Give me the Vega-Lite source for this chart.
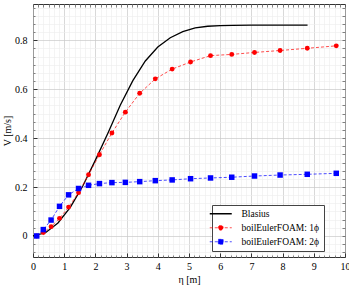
{
  "$schema": "https://vega.github.io/schema/vega-lite/v6.json",
  "width": 312,
  "height": 253,
  "autosize": {"type": "none"},
  "padding": {"left": 33, "top": 4, "right": 4, "bottom": 29},
  "config": {
    "font": "Liberation Serif",
    "view": {"stroke": "#333333", "strokeWidth": 1},
    "axis": {"domain": false, "labelColor": "#000000", "titleColor": "#000000", "tickColor": "#333333", "labelFontSize": 10, "titleFontSize": 10, "titleFontWeight": "normal"}
  },
  "datasets": {
    "pts": [
      {"series": "Blasius", "eta": 0, "v": 0},
      {"series": "Blasius", "eta": 0.4, "v": 0.013},
      {"series": "Blasius", "eta": 0.8, "v": 0.053},
      {"series": "Blasius", "eta": 1.2, "v": 0.118},
      {"series": "Blasius", "eta": 1.6, "v": 0.205},
      {"series": "Blasius", "eta": 2.0, "v": 0.31},
      {"series": "Blasius", "eta": 2.4, "v": 0.42},
      {"series": "Blasius", "eta": 2.8, "v": 0.535},
      {"series": "Blasius", "eta": 3.2, "v": 0.635},
      {"series": "Blasius", "eta": 3.6, "v": 0.715},
      {"series": "Blasius", "eta": 4.0, "v": 0.772},
      {"series": "Blasius", "eta": 4.4, "v": 0.81},
      {"series": "Blasius", "eta": 4.8, "v": 0.835},
      {"series": "Blasius", "eta": 5.2, "v": 0.85},
      {"series": "Blasius", "eta": 5.6, "v": 0.857},
      {"series": "Blasius", "eta": 6.0, "v": 0.86},
      {"series": "Blasius", "eta": 6.4, "v": 0.861},
      {"series": "Blasius", "eta": 7.0, "v": 0.862},
      {"series": "Blasius", "eta": 8.0, "v": 0.862},
      {"series": "Blasius", "eta": 8.8, "v": 0.862},
      {"series": "boilEulerFOAM: 1ϕ", "eta": 0.12, "v": 0.0},
      {"series": "boilEulerFOAM: 1ϕ", "eta": 0.33, "v": 0.014},
      {"series": "boilEulerFOAM: 1ϕ", "eta": 0.58, "v": 0.038},
      {"series": "boilEulerFOAM: 1ϕ", "eta": 0.85, "v": 0.072},
      {"series": "boilEulerFOAM: 1ϕ", "eta": 1.14, "v": 0.118},
      {"series": "boilEulerFOAM: 1ϕ", "eta": 1.46, "v": 0.177},
      {"series": "boilEulerFOAM: 1ϕ", "eta": 1.78, "v": 0.25},
      {"series": "boilEulerFOAM: 1ϕ", "eta": 2.13, "v": 0.332},
      {"series": "boilEulerFOAM: 1ϕ", "eta": 2.53, "v": 0.421},
      {"series": "boilEulerFOAM: 1ϕ", "eta": 2.96, "v": 0.506},
      {"series": "boilEulerFOAM: 1ϕ", "eta": 3.42, "v": 0.583},
      {"series": "boilEulerFOAM: 1ϕ", "eta": 3.92, "v": 0.642},
      {"series": "boilEulerFOAM: 1ϕ", "eta": 4.46, "v": 0.682},
      {"series": "boilEulerFOAM: 1ϕ", "eta": 5.05, "v": 0.711},
      {"series": "boilEulerFOAM: 1ϕ", "eta": 5.69, "v": 0.737},
      {"series": "boilEulerFOAM: 1ϕ", "eta": 6.37, "v": 0.742},
      {"series": "boilEulerFOAM: 1ϕ", "eta": 7.1, "v": 0.75},
      {"series": "boilEulerFOAM: 1ϕ", "eta": 7.92, "v": 0.758},
      {"series": "boilEulerFOAM: 1ϕ", "eta": 8.79, "v": 0.767},
      {"series": "boilEulerFOAM: 1ϕ", "eta": 9.72, "v": 0.777},
      {"series": "boilEulerFOAM: 2ϕ", "eta": 0.12, "v": 0.0},
      {"series": "boilEulerFOAM: 2ϕ", "eta": 0.33, "v": 0.026},
      {"series": "boilEulerFOAM: 2ϕ", "eta": 0.58, "v": 0.065},
      {"series": "boilEulerFOAM: 2ϕ", "eta": 0.85, "v": 0.121},
      {"series": "boilEulerFOAM: 2ϕ", "eta": 1.14, "v": 0.168},
      {"series": "boilEulerFOAM: 2ϕ", "eta": 1.46, "v": 0.194},
      {"series": "boilEulerFOAM: 2ϕ", "eta": 1.78, "v": 0.207},
      {"series": "boilEulerFOAM: 2ϕ", "eta": 2.13, "v": 0.214},
      {"series": "boilEulerFOAM: 2ϕ", "eta": 2.53, "v": 0.218},
      {"series": "boilEulerFOAM: 2ϕ", "eta": 2.96, "v": 0.219},
      {"series": "boilEulerFOAM: 2ϕ", "eta": 3.42, "v": 0.222},
      {"series": "boilEulerFOAM: 2ϕ", "eta": 3.92, "v": 0.226},
      {"series": "boilEulerFOAM: 2ϕ", "eta": 4.46, "v": 0.229},
      {"series": "boilEulerFOAM: 2ϕ", "eta": 5.05, "v": 0.234},
      {"series": "boilEulerFOAM: 2ϕ", "eta": 5.69, "v": 0.237},
      {"series": "boilEulerFOAM: 2ϕ", "eta": 6.37, "v": 0.24},
      {"series": "boilEulerFOAM: 2ϕ", "eta": 7.1, "v": 0.245},
      {"series": "boilEulerFOAM: 2ϕ", "eta": 7.92, "v": 0.249},
      {"series": "boilEulerFOAM: 2ϕ", "eta": 8.79, "v": 0.252},
      {"series": "boilEulerFOAM: 2ϕ", "eta": 9.72, "v": 0.256}
    ]
  },
  "data": {"name": "pts"},
  "layer": [
    {
      "transform": [{"filter": "datum.series === 'Blasius'"}],
      "mark": {"type": "line", "strokeWidth": 1.3},
      "encoding": {
        "x": {
          "field": "eta", "type": "quantitative",
          "scale": {"domain": [0, 10], "nice": false, "zero": false},
          "axis": {"orient": "bottom", "values": [0,1,2,3,4,5,6,7,8,9,10], "grid": true, "gridColor": "#c8c8c8", "gridWidth": 0.7, "tickSize": -4, "labelPadding": 8, "labelFlush": false, "title": "η [m]", "titlePadding": 3}
        },
        "y": {
          "field": "v", "type": "quantitative",
          "scale": {"domain": [-0.086, 0.948], "nice": false, "zero": false},
          "axis": {"orient": "left", "values": [0, 0.2, 0.4, 0.6, 0.8], "format": "~g", "grid": true, "gridColor": "#c8c8c8", "gridWidth": 0.7, "tickSize": -4, "labelPadding": 10, "labelFlush": false, "title": "V [m/s]", "titlePadding": 2}
        },
        "color": {
          "field": "series", "type": "nominal",
          "scale": {"domain": ["Blasius", "boilEulerFOAM: 1ϕ", "boilEulerFOAM: 2ϕ"], "range": ["#000000", "#ff0000", "#0000ff"]},
          "legend": {
            "orient": "none", "legendX": 179, "legendY": 201, "title": null,
            "fillColor": "#ffffff", "strokeColor": "#444444", "padding": 4,
            "labelFontSize": 9.5, "labelColor": "#000000", "labelOffset": 16, "rowPadding": 3,
            "symbolSize": 484,
            "encode": {
              "symbols": {
                "update": {
                  "shape": {"signal": "datum.value === 'Blasius' ? 'M-1,0L1,0' : (datum.value === 'boilEulerFOAM: 1ϕ' ? 'M-1,0L1,0M-0.22,0A0.22,0.22,0,1,1,0.22,0A0.22,0.22,0,1,1,-0.22,0Z' : 'M-1,0L1,0M-0.22,-0.22L0.22,-0.22L0.22,0.22L-0.22,0.22Z')"},
                  "fill": {"signal": "datum.value === 'Blasius' ? 'transparent' : (datum.value === 'boilEulerFOAM: 1ϕ' ? '#ff0000' : '#0000ff')"},
                  "stroke": {"signal": "datum.value === 'Blasius' ? '#000000' : (datum.value === 'boilEulerFOAM: 1ϕ' ? '#ff0000' : '#0000ff')"},
                  "strokeDash": {"signal": "datum.value === 'Blasius' ? [] : [3, 2]"},
                  "strokeWidth": {"signal": "datum.value === 'Blasius' ? 1.5 : 0.7"},
                  "opacity": {"value": 1},
                  "fillOpacity": {"value": 1}
                }
              }
            }
          }
        }
      }
    },
    {
      "transform": [{"filter": "datum.series !== 'Blasius'"}],
      "mark": {"type": "line", "strokeWidth": 0.7, "strokeDash": [3, 2]},
      "encoding": {
        "x": {
          "field": "eta", "type": "quantitative",
          "axis": {"orient": "top", "values": [0,0.1667,0.3333,0.5,0.6667,0.8333,1,1.1667,1.3333,1.5,1.6667,1.8333,2,2.1667,2.3333,2.5,2.6667,2.8333,3,3.1667,3.3333,3.5,3.6667,3.8333,4,4.1667,4.3333,4.5,4.6667,4.8333,5,5.1667,5.3333,5.5,5.6667,5.8333,6,6.1667,6.3333,6.5,6.6667,6.8333,7,7.1667,7.3333,7.5,7.6667,7.8333,8,8.1667,8.3333,8.5,8.6667,8.8333,9,9.1667,9.3333,9.5,9.6667,9.8333,10], "grid": false, "labels": false, "tickSize": -3, "tickWidth": 0.6, "title": null}
        },
        "y": {
          "field": "v", "type": "quantitative",
          "axis": {"orient": "right", "values": [-0.0667,-0.0333,0,0.0333,0.0667,0.1,0.1333,0.1667,0.2,0.2333,0.2667,0.3,0.3333,0.3667,0.4,0.4333,0.4667,0.5,0.5333,0.5667,0.6,0.6333,0.6667,0.7,0.7333,0.7667,0.8,0.8333,0.8667,0.9,0.9333], "grid": false, "labels": false, "tickSize": -3, "tickWidth": 0.6, "title": null}
        },
        "color": {"field": "series", "type": "nominal"}
      }
    },
    {
      "transform": [{"filter": "datum.series !== 'Blasius'"}],
      "mark": {"type": "point", "filled": true, "opacity": 1, "strokeWidth": 0},
      "encoding": {
        "x": {
          "field": "eta", "type": "quantitative",
          "axis": {"orient": "bottom", "values": [0.1667,0.3333,0.5,0.6667,0.8333,1.1667,1.3333,1.5,1.6667,1.8333,2.1667,2.3333,2.5,2.6667,2.8333,3.1667,3.3333,3.5,3.6667,3.8333,4.1667,4.3333,4.5,4.6667,4.8333,5.1667,5.3333,5.5,5.6667,5.8333,6.1667,6.3333,6.5,6.6667,6.8333,7.1667,7.3333,7.5,7.6667,7.8333,8.1667,8.3333,8.5,8.6667,8.8333,9.1667,9.3333,9.5,9.6667,9.8333], "grid": true, "gridColor": "#ececec", "gridWidth": 0.6, "labels": false, "tickSize": -2, "tickWidth": 0.6, "title": null}
        },
        "y": {
          "field": "v", "type": "quantitative",
          "axis": {"orient": "left", "values": [-0.0667,-0.0333,0.0333,0.0667,0.1,0.1333,0.1667,0.2333,0.2667,0.3,0.3333,0.3667,0.4333,0.4667,0.5,0.5333,0.5667,0.6333,0.6667,0.7,0.7333,0.7667,0.8333,0.8667,0.9,0.9333], "grid": true, "gridColor": "#ececec", "gridWidth": 0.6, "labels": false, "tickSize": -2, "tickWidth": 0.6, "title": null}
        },
        "color": {"field": "series", "type": "nominal"},
        "shape": {"field": "series", "type": "nominal", "scale": {"domain": ["boilEulerFOAM: 1ϕ", "boilEulerFOAM: 2ϕ"], "range": ["circle", "square"]}, "legend": null},
        "size": {"field": "series", "type": "nominal", "scale": {"domain": ["boilEulerFOAM: 1ϕ", "boilEulerFOAM: 2ϕ"], "range": [24, 30]}, "legend": null}
      }
    }
  ],
  "resolve": {"axis": {"x": "independent", "y": "independent"}}
}
